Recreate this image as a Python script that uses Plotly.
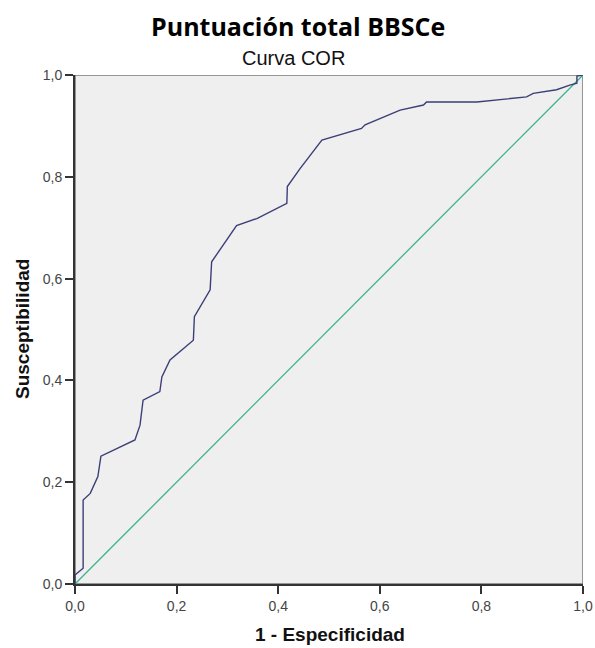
import plotly.graph_objects as go

# ROC curve points (1 - Especificidad, Susceptibilidad)
fpr = [0.000, 0.000, 0.016, 0.016, 0.030, 0.045, 0.051, 0.118, 0.128, 0.134,
       0.167, 0.171, 0.187, 0.233, 0.235, 0.266, 0.269, 0.318, 0.358, 0.417,
       0.418, 0.443, 0.486, 0.564, 0.571, 0.640, 0.686, 0.692, 0.791, 0.889,
       0.902, 0.948, 0.974, 0.988, 0.988, 1.000]
tpr = [0.000, 0.018, 0.031, 0.165, 0.178, 0.211, 0.251, 0.283, 0.312, 0.361,
       0.378, 0.407, 0.440, 0.479, 0.525, 0.578, 0.633, 0.704, 0.718, 0.748,
       0.781, 0.816, 0.872, 0.895, 0.902, 0.931, 0.941, 0.947, 0.947, 0.957,
       0.964, 0.971, 0.980, 0.984, 0.998, 1.000]
ref_x = [0, 1]
ref_y = [0, 1]
tick_vals = [0, 0.2, 0.4, 0.6, 0.8, 1.0]

W, H = 595, 648
ML, MR, MT, MB = 75, 12, 75, 64
plot_h = H - MT - MB
plot_w = W - ML - MR

def py_to_paper(py):
    return (H - MB - py) / plot_h

def px_to_paper(px):
    return (px - ML) / plot_w

fig = go.Figure()
fig.add_trace(go.Scatter(x=ref_x, y=ref_y, mode="lines",
                         line=dict(color="#3cb38a", width=1.3), showlegend=False))
fig.add_trace(go.Scatter(x=fpr, y=tpr, mode="lines",
                         line=dict(color="#3b3f78", width=1.4), showlegend=False))

axis_common = dict(range=[0, 1], tickvals=tick_vals, tickformat=".1f",
                   showgrid=False, zeroline=False, showline=True, automargin=False,
                   linecolor="#333333", linewidth=2, ticks="outside",
                   ticklen=8, tickwidth=1.5, tickcolor="#333333",
                   tickfont=dict(family="Liberation Sans, Arial", size=14, color="#444444"))

fig.update_xaxes(**axis_common)
fig.update_yaxes(**axis_common)

# light frame on top and right
fig.add_shape(type="rect", xref="x", yref="y", x0=0, y0=0, x1=1, y1=1,
              line=dict(color="#7a7a7a", width=1.5), layer="below")

fig.add_annotation(text="<b>Puntuación total BBSCe</b>", xref="paper", yref="paper",
                   x=px_to_paper(298), y=py_to_paper(26), xanchor="center", yanchor="middle",
                   showarrow=False,
                   font=dict(family="Open Sans, Noto Sans", size=25, color="#000000"))
fig.add_annotation(text="Curva COR", xref="paper", yref="paper",
                   x=px_to_paper(293), y=py_to_paper(58), xanchor="center", yanchor="middle",
                   showarrow=False,
                   font=dict(family="Liberation Sans, Arial", size=20, color="#111111"))
fig.add_annotation(text="<b>1 - Especificidad</b>", xref="paper", yref="paper",
                   x=px_to_paper(330), y=py_to_paper(635), xanchor="center", yanchor="middle",
                   showarrow=False,
                   font=dict(family="Liberation Sans, Arial", size=19, color="#111111"))
fig.add_annotation(text="<b>Susceptibilidad</b>", xref="paper", yref="paper",
                   x=px_to_paper(22), y=py_to_paper(329), xanchor="center", yanchor="middle",
                   textangle=-90, showarrow=False,
                   font=dict(family="Liberation Sans, Arial", size=19, color="#111111"))

fig.update_layout(width=W, height=H,
                  margin=dict(l=ML, r=MR, t=MT, b=MB, autoexpand=False),
                  paper_bgcolor="white", plot_bgcolor="#efefef",
                  separators=",.", showlegend=False)

fig.write_html("out.html")
